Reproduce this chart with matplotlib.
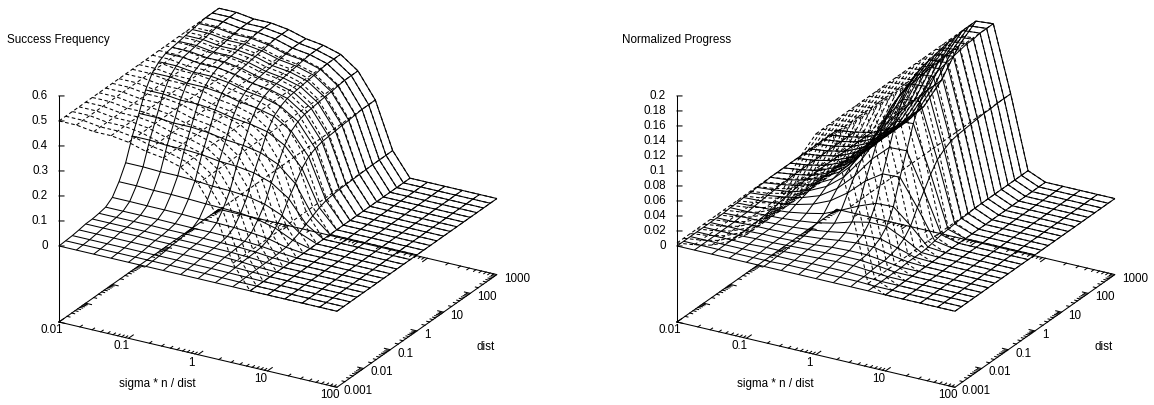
import numpy as np
import matplotlib
matplotlib.use("Agg")
import matplotlib.pyplot as plt
from mpl_toolkits.mplot3d import proj3d

plt.rcParams['font.family'] = ['Liberation Sans', 'DejaVu Sans']

# grid, log10 of the axis values
x_log = [-2, -1.75, -1.5, -1.25, -1, -0.75, -0.5, -0.25, 0, 0.25, 0.5, 0.75, 1, 1.25, 1.5, 1.75, 2]
y_log = [-3, -2.75, -2.5, -2.25, -2, -1.75, -1.5, -1.25, -1, -0.75, -0.5, -0.25, 0,
         0.25, 0.5, 0.75, 1, 1.25, 1.5, 1.75, 2, 2.25, 2.5, 2.75, 3]

x_ticks = ["0.01", "0.1", "1", "10", "100"]
y_ticks = ["0.001", "0.01", "0.1", "1", "10", "100", "1000"]
z_ticks_left = ["0", "0.1", "0.2", "0.3", "0.4", "0.5", "0.6"]
z_ticks_right = ["0", "0.02", "0.04", "0.06", "0.08", "0.1", "0.12", "0.14", "0.16", "0.18", "0.2"]

# dashed surfaces do not change with dist, one value per sigma column
freq_dashed = [0.5, 0.5, 0.49, 0.49, 0.48, 0.46, 0.45, 0.43, 0.38, 0.28, 0.094]
prog_dashed = [0.004, 0.007, 0.012, 0.022, 0.037, 0.063, 0.103, 0.154, 0.193, 0.195, 0.107, 0.010]

# solid surfaces, one row per dist, columns left out on the right are 0
freq_solid = [
    [0, 0, 0, 0, 0, 0, 0, 0, 0, 0, 0],
    [.002, .002, .002, .002, .002, .002, .002, .002, .002, .001, 0],
    [.004, .004, .004, .004, .004, .004, .004, .003, .003, .002, .001],
    [.008, .008, .008, .008, .008, .007, .007, .007, .006, .004, .002],
    [.013, .013, .013, .013, .012, .012, .012, .011, .010, .007, .002],
    [.014, .014, .014, .014, .013, .013, .013, .012, .011, .008, .003],
    [.018, .018, .018, .018, .017, .017, .016, .015, .014, .010, .003],
    [.024, .024, .024, .024, .023, .022, .022, .021, .018, .013, .005],
    [.044, .044, .043, .043, .042, .040, .040, .038, .033, .025, .008],
    [.088, .088, .086, .086, .084, .081, .079, .076, .067, .049, .017],
    [.145, .145, .142, .142, .139, .133, .131, .125, .110, .081, .028],
    [.233, .233, .228, .228, .224, .214, .210, .200, .177, .130, .044],
    [.305, .305, .299, .299, .293, .281, .275, .262, .232, .171, .058],
    [.380, .380, .372, .372, .365, .350, .342, .327, .289, .213, .072],
    [.430, .430, .421, .421, .413, .396, .387, .370, .327, .241, .082],
    [.455, .455, .446, .446, .437, .419, .410, .391, .346, .255, .086],
    [.470, .470, .461, .461, .451, .432, .423, .404, .357, .263, .089],
    [.475, .475, .466, .466, .456, .437, .428, .409, .361, .266, .090],
    [.480, .480, .470, .470, .461, .442, .432, .413, .365, .269, .091],
    [.485, .485, .475, .475, .466, .446, .437, .417, .369, .272, .092],
    [.490, .490, .480, .480, .470, .451, .441, .421, .372, .274, .093],
    [.495, .495, .485, .485, .475, .455, .446, .426, .376, .277, .094],
    [.500, .500, .490, .490, .480, .460, .450, .430, .380, .280, .094],
    [.500, .500, .490, .490, .480, .460, .450, .430, .380, .280, .094],
    [.500, .500, .490, .490, .480, .460, .450, .430, .380, .280, .094],
]
prog_solid = [
    [0, 0, 0, 0, 0, 0, 0, 0, 0, 0, 0, 0],
    [0, 0, 0, 0, 0, 0, .001, .001, .001, .001, .001, 0],
    [0, 0, 0, 0, 0, .001, .001, .002, .002, .002, .001, 0],
    [0, 0, 0, 0, .001, .001, .002, .003, .004, .004, .002, 0],
    [0, 0, 0, .001, .001, .002, .003, .004, .005, .005, .003, 0],
    [0, 0, 0, .001, .001, .002, .003, .005, .006, .006, .003, 0],
    [0, 0, .001, .001, .002, .003, .005, .008, .010, .010, .005, .001],
    [0, .001, .001, .002, .003, .005, .008, .012, .014, .015, .008, .001],
    [.001, .001, .002, .003, .005, .008, .013, .020, .025, .025, .014, .001],
    [.001, .002, .003, .005, .009, .014, .024, .035, .044, .045, .025, .002],
    [.002, .003, .005, .009, .015, .025, .041, .062, .077, .078, .043, .004],
    [.002, .004, .007, .012, .020, .035, .057, .085, .106, .107, .059, .006],
    [.003, .005, .008, .015, .026, .044, .072, .108, .135, .137, .075, .007],
    [.003, .006, .010, .018, .030, .052, .084, .126, .158, .160, .088, .008],
    [.004, .006, .011, .020, .033, .056, .092, .137, .172, .174, .095, .009],
    [.004, .007, .011, .020, .034, .059, .096, .143, .179, .181, .100, .009],
    [.004, .007, .011, .021, .035, .060, .098, .146, .183, .185, .102, .010],
    [.004, .007, .012, .021, .036, .060, .099, .148, .185, .187, .103, .010],
    [.004, .007, .012, .021, .036, .061, .100, .149, .187, .189, .104, .010],
    [.004, .007, .012, .022, .036, .062, .101, .151, .189, .191, .105, .010],
    [.004, .007, .012, .022, .037, .062, .102, .152, .191, .193, .106, .010],
    [.004, .007, .012, .022, .037, .062, .102, .152, .191, .193, .106, .010],
    [.004, .007, .012, .022, .037, .063, .103, .154, .193, .195, .107, .010],
    [.004, .007, .012, .022, .037, .063, .103, .154, .193, .195, .107, .010],
    [.004, .007, .012, .022, .037, .063, .103, .154, .193, .195, .107, .010],
]

W, H = 1154, 405
LW = 0.75
FS = 8.4
minor = np.log10([2, 3, 4, 5, 6, 7, 8, 9])


def full_grid(rows):
    # pad the all zero columns on the right
    rows = np.array(rows, dtype=float)
    return np.pad(rows, ((0, 0), (0, len(x_log) - rows.shape[1])))


def screen(ax, x, y, z):
    xp, yp, _ = proj3d.proj_transform(x, y, z, ax.get_proj())
    return ax.transData.transform((xp, yp))


def panel(corner, ztop, title, title_x, zlabels, solid, dashed):
    # corner = pixel of (0.01, 0.001) on the base plane
    zbase = -ztop * 76 / 150
    ax = fig.add_axes([0, 0, 600 / W, 600 / H], projection='3d', computed_zorder=False)
    ax.set_proj_type('ortho')
    ax.view_init(elev=24, azim=-60)
    ax.set_xlim(-2, 2, view_margin=0)
    ax.set_ylim(-3, 3, view_margin=0)
    ax.set_zlim(zbase, ztop, view_margin=0)
    ax.set_axis_off()

    # fit size and place from the axis corners
    zoom = 1.0
    ax.set_box_aspect((321, 320, 247.5), zoom=zoom)
    fig.canvas.draw()
    a = screen(ax, -2, -3, zbase)
    b = screen(ax, 2, -3, zbase)
    zoom = 285.5 / np.hypot(*(b - a))
    ax.set_box_aspect((321, 320, 247.5), zoom=zoom)
    fig.canvas.draw()
    a = screen(ax, -2, -3, zbase)
    pos = ax.get_position()
    ax.set_position([pos.x0 + (corner[0] - a[0]) / W, pos.y0 + (H - corner[1] - a[1]) / H,
                     pos.width, pos.height])
    fig.canvas.draw()

    X, Y = np.meshgrid(x_log, y_log)
    Zd = full_grid([dashed] * len(y_log))
    ax.plot_wireframe(X, Y, Zd, rstride=1, cstride=1, color='k', linewidth=LW,
                      linestyles=(0, (3.5, 2.5)), zorder=1)
    ax.plot_wireframe(X, Y, full_grid(solid), rstride=1, cstride=1, color='k',
                      linewidth=LW, zorder=2)

    # base frame and z axis
    frame = dict(color='k', linewidth=LW, zorder=3, clip_on=False)
    ax.plot([-2, 2, 2, -2, -2], [-3, -3, 3, 3, -3], [zbase] * 5, **frame)
    ax.plot([-2, -2], [-3, -3], [zbase, ztop], **frame)

    # log ticks on all four base sides
    for d in range(-2, 2):
        for m, size in [(0, 0.18)] + [(v, 0.09) for v in minor]:
            ax.plot([d + m] * 2, [-3, -3 + size], [zbase] * 2, **frame)
            ax.plot([d + m] * 2, [3, 3 - size], [zbase] * 2, **frame)
    for d in range(-3, 3):
        for m, size in [(0, 0.084)] + [(v, 0.042) for v in minor]:
            ax.plot([2, 2 - size], [d + m] * 2, [zbase] * 2, **frame)
            ax.plot([-2, -2 + size], [d + m] * 2, [zbase] * 2, **frame)

    def label(text, xyz, dx, dy, ha, va='center'):
        p = screen(ax, *xyz)
        fig.text((p[0] + dx) / W, (p[1] + dy) / H, text, ha=ha, va=va, fontsize=FS, color='k')

    for lab, lx in zip(x_ticks, [-2, -1, 0, 1, 2]):
        label(lab, (lx, -3, zbase), -7, -8, 'center')
    for lab, ly in zip(y_ticks, [-3, -2, -1, 0, 1, 2, 3]):
        label(lab, (2, ly, zbase), 7, -4, 'left')
    for lab in zlabels:
        z = float(lab)
        ax.plot([-2, -2 + 0.054], [-3, -3 + 0.047], [z, z], **frame)
        label(lab, (-2, -3, z), -11, 0, 'right')

    fig.text(title_x / W, 1 - 39.5 / H, title, ha='left', va='center', fontsize=FS, color='k')
    fig.text((corner[0] + 98) / W, 1 - 383.5 / H, "sigma * n / dist", ha='center', va='center',
             fontsize=FS, color='k')
    fig.text((corner[0] + 427) / W, 1 - 347 / H, "dist", ha='center', va='center',
             fontsize=FS, color='k')


fig = plt.figure(figsize=(W / 100, H / 100), dpi=100)
panel((59, 322), 0.6, "Success Frequency", 7, z_ticks_left, freq_solid, freq_dashed)
panel((677, 322), 0.2, "Normalized Progress", 622, z_ticks_right, prog_solid, prog_dashed)
fig.savefig("out.png", dpi=100)
